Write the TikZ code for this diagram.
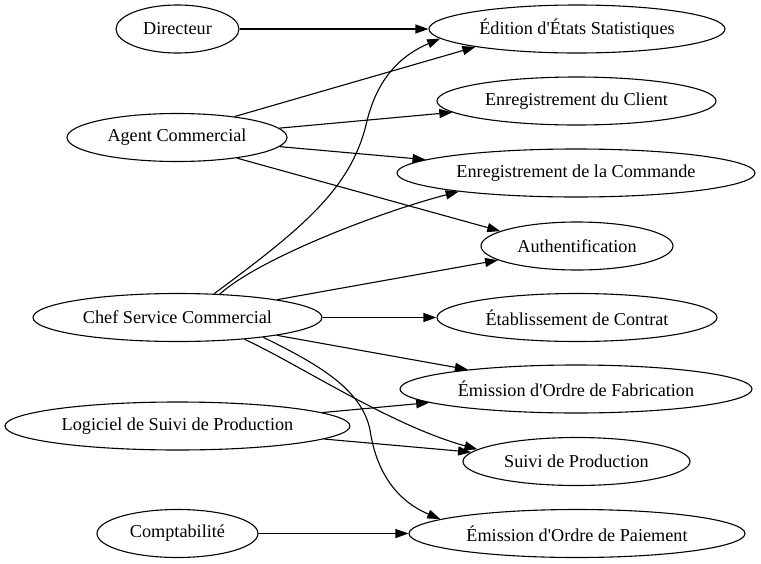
\documentclass[tikz,border=0pt]{standalone}
\usepackage{fontspec}
\newfontfamily\gvfont{Liberation Serif}
\usepackage{tikz}
\usetikzlibrary{shapes.geometric,arrows.meta}

\begin{document}
\begin{tikzpicture}[x=1pt, y=-1pt,
		usecase/.style={draw, ellipse, line width=1.1pt, inner sep=0pt, minimum height=48pt, font=\gvfont\fontsize{18.2}{22}\selectfont},
		edge/.style={line width=1.1pt, -{Triangle[length=13pt, width=9pt]}}]
		%%%%% START %%%%%
		
		\useasboundingbox (0, 0) rectangle (761, 563);
		
		% acteurs
		\node[usecase, minimum width=123pt] (directeur) at (177.5, 29) {Directeur};
		\node[usecase, minimum width=220pt] (agent) at (177, 137.5) {Agent Commercial};
		\node[usecase, minimum width=289pt] (chef) at (177.5, 317.5) {Chef Service Commercial};
		\node[usecase, minimum width=345pt] (logiciel) at (177.5, 426) {Logiciel de Suivi de Production};
		\node[usecase, minimum width=161pt] (compta) at (177.5, 533.5) {Comptabilité};
		
		% cas d'utilisation
		\node[usecase, minimum width=296pt] (edition) at (577, 29) {Édition d\textquotesingle États Statistiques};
		\node[usecase, minimum width=279pt] (client) at (576.5, 101) {Enregistrement du Client};
		\node[usecase, minimum width=358pt] (commande) at (576, 173) {Enregistrement de la Commande};
		\node[usecase, minimum width=192pt] (auth) at (577, 246) {Authentification};
		\node[usecase, minimum width=280pt] (contrat) at (577, 317.5) {Établissement de Contrat};
		\node[usecase, minimum width=352pt] (fabrication) at (576, 389) {Émission d\textquotesingle Ordre de Fabrication};
		\node[usecase, minimum width=227pt] (suivi) at (576.5, 461.5) {Suivi de Production};
		\node[usecase, minimum width=336pt] (paiement) at (577, 533.5) {Émission d\textquotesingle Ordre de Paiement};
		
		\draw[edge] (directeur) -- (edition);
		
		\draw[edge] (agent.20) -- (edition.190);
		\draw[edge] (agent) -- (client);
		\draw[edge] (agent) -- (commande);
		\draw[edge] (agent.341) -- (auth.169);
		
		\draw[edge] (chef.33) .. controls (300, 230) and (350, 190) .. (366, 125) .. controls (375, 85) and (395, 58) .. (edition.184);
		\draw[edge] (chef.29) .. controls (260, 258) and (380, 212) .. (commande.189);
		\draw[edge] (chef) -- (auth);
		\draw[edge] (chef) -- (contrat);
		\draw[edge] (chef) -- (fabrication);
		\draw[edge] (chef.342) .. controls (300, 365) and (390, 425) .. (suivi.173);
		\draw[edge] (chef.347) .. controls (320, 365) and (362, 390) .. (370, 430) .. controls (376, 470) and (395, 500) .. (paiement.174);
		
		\draw[edge] (logiciel) -- (fabrication);
		\draw[edge] (logiciel) -- (suivi);
		
		\draw[edge] (compta) -- (paiement);
		
		%%%%% END %%%%%
	\end{tikzpicture}
\end{document}
